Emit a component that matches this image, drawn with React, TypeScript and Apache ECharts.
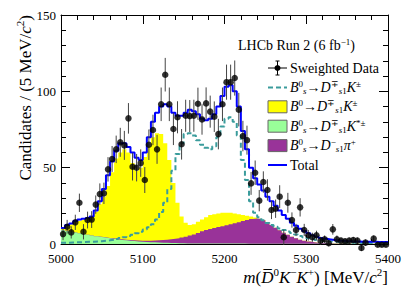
import React, { useEffect, useRef } from "react";
import * as echarts from "echarts";

const SERIF = '"Liberation Serif", "Times New Roman", serif';

const X_MIN = 5000;
const X_MAX = 5400;
const BIN_WIDTH = 5;
const Y_MIN = 0;
const Y_MAX = 150;

// sWeighted data per 5 MeV bin (5000-5400)
const dataValues: (number | null)[] = [
  6.5, 11.3, 7.6, 14.2, 27.0, 8.0, 15.7, 16.0, 25.8, 32.7,
  33.2, 48.9, 55.7, 62.0, 66.6, 64.6, 82.3, 50.6, 50.0, 53.0,
  41.9, 65.0, 74.7, 62.0, 91.5, 110.9, 91.5, 75.3, 83.0, 65.3,
  84.0, 83.8, 84.0, 91.9, 81.6, 92.1, 86.7, 83.4, 72.0, 91.5,
  106.0, 106.0, 108.7, 88.0, 70.7, 68.0, 39.7, 46.7, 28.4, 40.6,
  35.4, 22.3, 23.1, 31.0, 4.4, 27.0, 15.7, 9.2, 24.0, 9.2,
  5.7, 4.4, 5.7, 2.2, 3.1, 0.5, 9.6, 3.1, 2.2, 1.7,
  2.2, 2.6, 2.2, -2.6, 0.9, null, 3.5, -0.5, -0.5, -0.5,
];

const dataErrors: number[] = [
  4, 4.5, 4, 5, 6, 5, 5.5, 5.5, 6, 7,
  7, 8, 8.5, 9, 9.5, 9.5, 10, 9, 9, 9,
  8.5, 10, 10, 9.5, 11, 11, 11, 10.5, 10.5, 10,
  10.5, 10.5, 10.5, 10.5, 10, 10.5, 10.5, 10, 10, 11,
  11.5, 11.5, 11.5, 11, 10, 9.5, 7.5, 8, 7, 7,
  7, 6, 6, 7.5, 5, 6.5, 5, 4, 6, 4,
  3.5, 3, 3, 2.5, 2.5, 2, 3.5, 2.5, 2, 2,
  2, 2, 2, 2, 2, 2, 2, 1.5, 1.5, 1.5,
];

// Bs0 -> Ds1 K (dashed)
const bsDsKDashed: number[] = [
  0.8, 0.9, 1.0, 1.1, 1.2, 1.3, 1.4, 1.5, 1.7, 1.8,
  2.1, 2.4, 2.8, 3.3, 3.9, 4.5, 5.2, 6.0, 7.0, 8.0,
  9.5, 11.0, 13.0, 16.0, 21.0, 27.0, 36.0, 48.0, 59.0, 66.0,
  72.0, 72.5, 71.0, 68.0, 65.0, 63.0, 62.0, 64.0, 70.0, 77.0,
  82.0, 83.0, 80.0, 71.0, 55.0, 42.0, 28.0, 20.5, 17.5, 15.5,
  13.8, 12.5, 11.3, 10.2, 9.2, 8.2, 7.2, 6.2, 5.2, 4.4,
  3.7, 3.2, 2.7, 2.3, 2.0, 1.7, 1.5, 1.3, 1.1, 1.0,
  0.9, 0.8, 0.8, 0.7, 0.7, 0.6, 0.6, 0.5, 0.5, 0.5,
];

// Bs0 -> Ds1 K*  (light green, bottom of stack)
const bsDsKstarGreen: number[] = [
  9.0, 8.5, 8.0, 7.5, 7.0, 6.5, 6.0, 5.5, 5.0, 4.6,
  4.2, 3.8, 3.4, 3.0, 2.7, 2.4, 2.1, 1.9, 1.7, 1.5,
  1.3, 1.2, 1.1, 1.0, 0.9, 0.8, 0.7, 0.6, 0.5, 0.5,
  0.4, 0.4, 0.4, 0.4, 0.4, 0.3, 0.3, 0.3, 0.3, 0.3,
  0.3, 0.3, 0.3, 0.3, 0.3, 0.2, 0.2, 0.2, 0.2, 0.2,
  0.2, 0.2, 0.2, 0.2, 0.2, 0.2, 0.2, 0.2, 0.1, 0.1,
  0.1, 0.1, 0.1, 0.1, 0.1, 0.1, 0.1, 0.1, 0.1, 0.1,
  0.1, 0.1, 0.1, 0.1, 0.1, 0.1, 0.1, 0.1, 0.1, 0.1,
];

// Bs0 -> Ds1 pi (purple, middle of stack)
const bsDsPiPurple: number[] = [
  0.1, 0.1, 0.1, 0.1, 0.1, 0.1, 0.1, 0.1, 0.1, 0.1,
  0.2, 0.2, 0.3, 0.3, 0.4, 0.4, 0.5, 0.5, 0.6, 0.7,
  0.9, 1.0, 1.2, 1.4, 1.7, 2.0, 2.4, 2.8, 3.3, 3.8,
  4.4, 5.1, 5.9, 6.8, 8.0, 8.8, 9.5, 10.2, 10.8, 11.4,
  12.0, 12.6, 13.3, 14.0, 14.8, 15.6, 16.2, 16.5, 16.2, 15.3,
  14.0, 12.3, 10.5, 8.8, 7.2, 5.8, 4.6, 3.6, 2.7, 2.0,
  1.5, 1.1, 0.8, 0.6, 0.5, 0.4, 0.3, 0.3, 0.2, 0.2,
  0.2, 0.2, 0.1, 0.1, 0.1, 0.1, 0.1, 0.1, 0.1, 0.1,
];

// B0 -> Ds1 K (yellow, top of stack)
const b0DsKYellow: number[] = [
  1.4, 3.4, 4.9, 6.9, 7.9, 9.4, 10.9, 12.4, 15.9, 21.3,
  26.6, 34.0, 43.3, 52.7, 56.9, 59.2, 57.4, 50.6, 45.7, 47.8,
  54.8, 61.8, 67.7, 70.1, 69.4, 63.2, 51.9, 36.6, 23.2, 13.7,
  9.2, 7.0, 6.7, 7.3, 7.6, 8.4, 9.2, 9.0, 8.9, 8.8,
  8.2, 7.6, 6.4, 5.2, 3.9, 2.7, 1.6, 0.6, 0.1, 0,
  0, 0, 0, 0, 0, 0, 0, 0, 0, 0,
  0, 0, 0, 0, 0, 0, 0, 0, 0, 0,
  0, 0, 0, 0, 0, 0, 0, 0, 0, 0,
];

// Total fit
const totalFit: number[] = [
  10.5, 12.5, 13.5, 15.0, 16.0, 16.5, 17.0, 18.0, 22.0, 28.0,
  36.0, 45.0, 54.0, 61.0, 66.0, 66.0, 63.5, 60.0, 56.5, 55.0,
  60.0, 70.0, 80.0, 86.0, 90.0, 91.5, 90.0, 86.0, 84.0, 84.0,
  86.0, 88.0, 87.0, 85.0, 82.0, 81.0, 82.0, 85.0, 90.0, 97.0,
  103.0, 104.0, 100.0, 90.0, 74.0, 62.0, 50.0, 43.0, 39.0, 35.0,
  31.0, 28.0, 25.0, 22.0, 19.0, 16.5, 14.0, 12.0, 10.0, 8.5,
  7.0, 5.8, 4.8, 4.0, 3.4, 3.0, 2.6, 2.3, 2.1, 1.9,
  1.8, 1.7, 1.6, 1.5, 1.5, 1.4, 1.4, 1.3, 1.3, 1.3,
];

const COLORS = {
  yellow: "#ffff00",
  green: "#99ff99",
  purple: "#993399",
  dashed: "#3a9c9c",
  total: "#0000ff",
};

function stepData(vals: number[]) {
  const pts: number[][] = vals.map((v, i) => [X_MIN + i * BIN_WIDTH, v]);
  pts.push([X_MIN + vals.length * BIN_WIDTH, vals[vals.length - 1]]);
  return pts;
}

const rich = {
  n: { fontFamily: SERIF, fontSize: 14, color: "#000", lineHeight: 16 },
  i: { fontFamily: SERIF, fontSize: 14, fontStyle: "italic", color: "#000", lineHeight: 16 },
  sup: { fontFamily: SERIF, fontSize: 9, color: "#000", verticalAlign: "top", lineHeight: 9 },
  sub: { fontFamily: SERIF, fontSize: 9, color: "#000", verticalAlign: "bottom", lineHeight: 9 },
  isub: { fontFamily: SERIF, fontSize: 9, fontStyle: "italic", color: "#000", verticalAlign: "bottom", lineHeight: 9 },
};

const richBig = {
  n: { fontFamily: SERIF, fontSize: 17, color: "#000", lineHeight: 22 },
  i: { fontFamily: SERIF, fontSize: 17, fontStyle: "italic", color: "#000", lineHeight: 22 },
  sup: { fontFamily: SERIF, fontSize: 11, color: "#000", verticalAlign: "top", lineHeight: 11 },
};

const legendLabels = [
  "{n|Sweighted Data}",
  "{i|B}{sup|0}{isub|s}{n|→}{i|D}{sup|∓}{isub|s}{sub|1}{i|K}{sup|±}",
  "{i|B}{sup|0}{n|→}{i|D}{sup|∓}{isub|s}{sub|1}{i|K}{sup|±}",
  "{i|B}{sup|0}{isub|s}{n|→}{i|D}{sup|∓}{isub|s}{sub|1}{i|K}{sup|*±}",
  "{i|B}{sup|0}{isub|s}{n|→}{i|D}{sup|−}{isub|s}{sub|1}{i|π}{sup|+}",
  "{n|Total}",
];

function buildGraphics() {
  const g: any[] = [];
  const lx = 268;
  const lw = 19;
  const tx = 290;
  const y0 = 68;
  const dy = 19.4;
  const rows = legendLabels.map((_, k) => y0 + k * dy);

  g.push({ type: "line", shape: { x1: lx, y1: rows[0], x2: lx + lw, y2: rows[0] }, style: { stroke: "#000", lineWidth: 1 } });
  g.push({ type: "line", shape: { x1: lx + lw / 2, y1: rows[0] - 7, x2: lx + lw / 2, y2: rows[0] + 7 }, style: { stroke: "#000", lineWidth: 1 } });
  g.push({ type: "line", shape: { x1: lx + lw / 2 - 2, y1: rows[0] - 7, x2: lx + lw / 2 + 2, y2: rows[0] - 7 }, style: { stroke: "#000", lineWidth: 1 } });
  g.push({ type: "line", shape: { x1: lx + lw / 2 - 2, y1: rows[0] + 7, x2: lx + lw / 2 + 2, y2: rows[0] + 7 }, style: { stroke: "#000", lineWidth: 1 } });
  g.push({ type: "circle", shape: { cx: lx + lw / 2, cy: rows[0], r: 3 }, style: { fill: "#000" } });
  g.push({ type: "line", shape: { x1: lx, y1: rows[1], x2: lx + lw, y2: rows[1] }, style: { stroke: COLORS.dashed, lineWidth: 2, lineDash: [5, 3] } });
  const boxColors = [COLORS.yellow, COLORS.green, COLORS.purple];
  boxColors.forEach((c, k) => {
    g.push({ type: "rect", shape: { x: lx, y: rows[2 + k] - 6, width: lw, height: 12 }, style: { fill: c, stroke: "#666", lineWidth: 1 } });
  });
  g.push({ type: "line", shape: { x1: lx, y1: rows[5], x2: lx + lw, y2: rows[5] }, style: { stroke: COLORS.total, lineWidth: 2 } });

  legendLabels.forEach((t, k) => {
    g.push({ type: "text", x: tx, y: rows[k], style: { text: t, rich, align: "left", verticalAlign: "middle" } });
  });

  g.push({
    type: "text",
    x: 238,
    y: 45,
    style: { text: "{n|LHCb Run 2 (6 fb}{sup|−1}{n|)}", rich, align: "left", verticalAlign: "middle" },
  });

  g.push({
    type: "text",
    x: 388,
    y: 277,
    style: {
      text: "{i|m}{n|(}{i|D\u0305}{sup|0}{i|K}{sup|−}{i|K}{sup|+}{n|) [MeV/}{i|c}{sup|2}{n|]}",
      rich: richBig,
      align: "right",
      verticalAlign: "middle",
    },
  });
  g.push({
    type: "text",
    x: 25,
    y: 15,
    rotation: Math.PI / 2,
    style: {
      text: "{n|Candidates / (5 MeV/}{i|c}{sup|2}{n|)}",
      rich: richBig,
      align: "right",
      verticalAlign: "middle",
    },
  });
  return g;
}

export default function App() {
  const ref = useRef<HTMLDivElement>(null);

  useEffect(() => {
    if (!ref.current) return;
    const chart = echarts.init(ref.current, undefined, { renderer: "svg" });

    const axisCommon = {
      axisLine: { show: true, onZero: false, lineStyle: { color: "#000", width: 1 } },
      axisTick: { show: true, inside: true, length: 9, lineStyle: { color: "#000", width: 1 } },
      minorTick: { show: true, splitNumber: 5, length: 5, lineStyle: { color: "#000", width: 1 } },
      splitLine: { show: false },
      minorSplitLine: { show: false },
    };
    const labelStyle = { fontFamily: SERIF, fontSize: 13, color: "#000", formatter: (v: number) => String(v) };

    const points = dataValues
      .map((v, i) => (v == null ? null : [X_MIN + (i + 0.5) * BIN_WIDTH, v]))
      .filter((p) => p != null);
    const errs = dataValues
      .map((v, i) => (v == null ? null : [X_MIN + (i + 0.5) * BIN_WIDTH, v - dataErrors[i], v + dataErrors[i]]))
      .filter((p) => p != null);

    // cumulative stack tops (green bottom, purple middle, yellow top)
    const cumGreen = bsDsKstarGreen.slice();
    const cumPurple = bsDsKstarGreen.map((v, i) => v + bsDsPiPurple[i]);
    const cumYellow = cumPurple.map((v, i) => v + b0DsKYellow[i]);

    const areaSeries = (name: string, vals: number[], color: string, z: number) => ({
      name,
      type: "line",
      step: "end",
      data: stepData(vals),
      showSymbol: false,
      symbol: "none",
      lineStyle: { width: 0, opacity: 0 },
      areaStyle: { color, opacity: 1, origin: "start" },
      silent: true,
      z,
    });

    const option: any = {
      animation: false,
      backgroundColor: "#fff",
      grid: { left: 61, right: 19, top: 15, bottom: 48, containLabel: false },
      xAxis: [
        { type: "value", position: "bottom", min: X_MIN, max: X_MAX, interval: 100, ...axisCommon,
          axisLabel: { ...labelStyle, margin: 8 } },
        { type: "value", position: "top", min: X_MIN, max: X_MAX, interval: 100, ...axisCommon,
          axisLabel: { show: false } },
      ],
      yAxis: [
        { type: "value", position: "left", min: Y_MIN, max: Y_MAX, interval: 50, ...axisCommon,
          axisLabel: { ...labelStyle, margin: 5 } },
        { type: "value", position: "right", min: Y_MIN, max: Y_MAX, interval: 50, ...axisCommon,
          axisLabel: { show: false } },
      ],
      series: [
        areaSeries("yellow", cumYellow, COLORS.yellow, 1),
        areaSeries("purple", cumPurple, COLORS.purple, 2),
        areaSeries("green", cumGreen, COLORS.green, 3),
        {
          name: "dashed",
          type: "line",
          step: "end",
          data: stepData(bsDsKDashed),
          showSymbol: false,
          symbol: "none",
          lineStyle: { color: COLORS.dashed, width: 2, type: [5, 3] },
          silent: true,
          z: 4,
        },
        {
          name: "total",
          type: "line",
          step: "end",
          data: stepData(totalFit),
          showSymbol: false,
          symbol: "none",
          lineStyle: { color: COLORS.total, width: 2 },
          silent: true,
          z: 5,
        },
        {
          name: "errors",
          type: "custom",
          data: errs,
          encode: { x: 0, y: [1, 2] },
          clip: false,
          silent: true,
          z: 6,
          renderItem: (_p: any, api: any) => {
            const x = api.value(0);
            const a = api.coord([x, api.value(1)]);
            const b = api.coord([x, api.value(2)]);
            return {
              type: "line",
              shape: { x1: a[0], y1: a[1], x2: b[0], y2: b[1] },
              style: { stroke: "#444", lineWidth: 1 },
            };
          },
        },
        {
          name: "data",
          type: "scatter",
          data: points,
          symbol: "circle",
          symbolSize: 6.5,
          itemStyle: { color: "#000" },
          clip: false,
          silent: true,
          z: 7,
        },
      ],
      graphic: buildGraphics(),
    };

    chart.setOption(option);
    return () => chart.dispose();
  }, []);

  return (
    <div
      ref={ref}
      style={{ position: "absolute", left: 0, top: 0, width: 407, height: 292, background: "#fff" }}
    />
  );
}
